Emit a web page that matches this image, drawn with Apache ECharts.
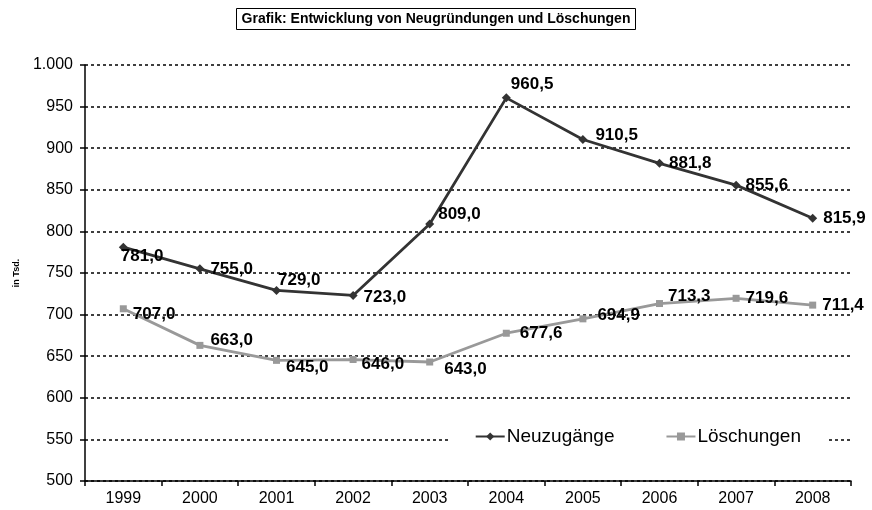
<!DOCTYPE html>
<html>
<head>
<meta charset="utf-8">
<script src="https://cdn.jsdelivr.net/npm/echarts@6/dist/echarts.min.js"></script>
<style>
  html, body { margin: 0; padding: 0; background: #fff; }
  #chart { width: 872px; height: 510px; }
</style>
</head>
<body>
<div id="chart"></div>
<script>
// Jahre und Werte (in Tsd.)
const years = ['1999', '2000', '2001', '2002', '2003', '2004', '2005', '2006', '2007', '2008'];
const neuzugaenge = [781.0, 755.0, 729.0, 723.0, 809.0, 960.5, 910.5, 881.8, 855.6, 815.9];
const loeschungen = [707.0, 663.0, 645.0, 646.0, 643.0, 677.6, 694.9, 713.3, 719.6, 711.4];

// kleine Verschiebungen der Beschriftungen (wie im Original von Hand gesetzt)
const shiftNeu = [[-11, 9], [2, 0], [-7, -10], [2, 2], [0, -10], [-4, -14], [4, -4], [1, 0], [1, 0], [2, 0]];
const shiftLoe = [[2, 6], [3, -5], [2, 7], [1, 5], [7, 7], [6, 0], [7, -4], [1, -7], [2, 0], [2, 0]];

const chart = echarts.init(document.getElementById('chart'));

const FONT = 'Liberation Sans, Arial, sans-serif';
const fmtDe = v => v.toFixed(1).replace('.', ',');
const fmtAxis = v => v >= 1000 ? Math.floor(v / 1000) + '.' + String(v % 1000).padStart(3, '0') : String(v);

const labelStyle = {
  show: true,
  position: 'right',
  distance: 4,
  color: '#000',
  fontFamily: FONT,
  fontWeight: 'bold',
  fontSize: 17,
  formatter: p => fmtDe(p.value)
};

const withShift = (values, shifts) => values.map((v, i) => ({
  value: v,
  label: { offset: shifts[i] }
}));

const option = {
  animation: false,
  backgroundColor: '#fff',
  title: {
    text: 'Grafik: Entwicklung von Neugründungen und Löschungen',
    left: 'center',
    top: 8,
    padding: [4, 5, 4, 5],
    borderColor: '#000',
    borderWidth: 1,
    textStyle: {
      fontFamily: FONT,
      fontSize: 14,
      fontWeight: 'bold',
      color: '#000'
    }
  },
  legend: {
    right: 46,
    top: 425,
    itemGap: 51,
    itemWidth: 29,
    itemHeight: 10,
    backgroundColor: '#fff',
    padding: [2, 25, 2, 25],
    textStyle: {
      fontFamily: FONT,
      fontSize: 19,
      color: '#000',
      padding: [0, 0, 0, -3]
    },
    data: ['Neuzugänge', 'Löschungen']
  },
  grid: { left: 85, right: 21, top: 65, bottom: 29 },
  xAxis: {
    type: 'category',
    data: years,
    boundaryGap: true,
    axisLine: { lineStyle: { color: '#000', width: 1.5 } },
    axisTick: { show: true, inside: false, length: 5, lineStyle: { color: '#000', width: 1.5 } },
    axisLabel: {
      color: '#000',
      fontFamily: FONT,
      fontSize: 16,
      margin: 10
    }
  },
  yAxis: {
    type: 'value',
    min: 500,
    max: 1000,
    interval: 50,
    name: 'in Tsd.',
    nameLocation: 'middle',
    nameGap: 64,
    nameTextStyle: {
      fontFamily: FONT,
      fontSize: 9,
      fontWeight: 'bold',
      color: '#000'
    },
    axisLine: { show: true, lineStyle: { color: '#000', width: 1.5 } },
    axisTick: { show: true, inside: false, length: 5, lineStyle: { color: '#000', width: 1.5 } },
    axisLabel: {
      color: '#000',
      fontFamily: FONT,
      fontSize: 16,
      margin: 12,
      formatter: fmtAxis
    },
    splitLine: { lineStyle: { color: '#000', width: 1.5, type: [3, 3] } }
  },
  series: [
    {
      name: 'Neuzugänge',
      type: 'line',
      data: withShift(neuzugaenge, shiftNeu),
      symbol: 'diamond',
      symbolSize: 9,
      color: '#333333',
      lineStyle: { color: '#333333', width: 2.8 },
      itemStyle: { color: '#333333' },
      label: labelStyle,
      z: 3
    },
    {
      name: 'Löschungen',
      type: 'line',
      data: withShift(loeschungen, shiftLoe),
      symbol: 'rect',
      symbolSize: 7,
      color: '#999999',
      lineStyle: { color: '#999999', width: 2.8 },
      itemStyle: { color: '#999999' },
      label: labelStyle,
      z: 2
    }
  ]
};

chart.setOption(option);
</script>
</body>
</html>
